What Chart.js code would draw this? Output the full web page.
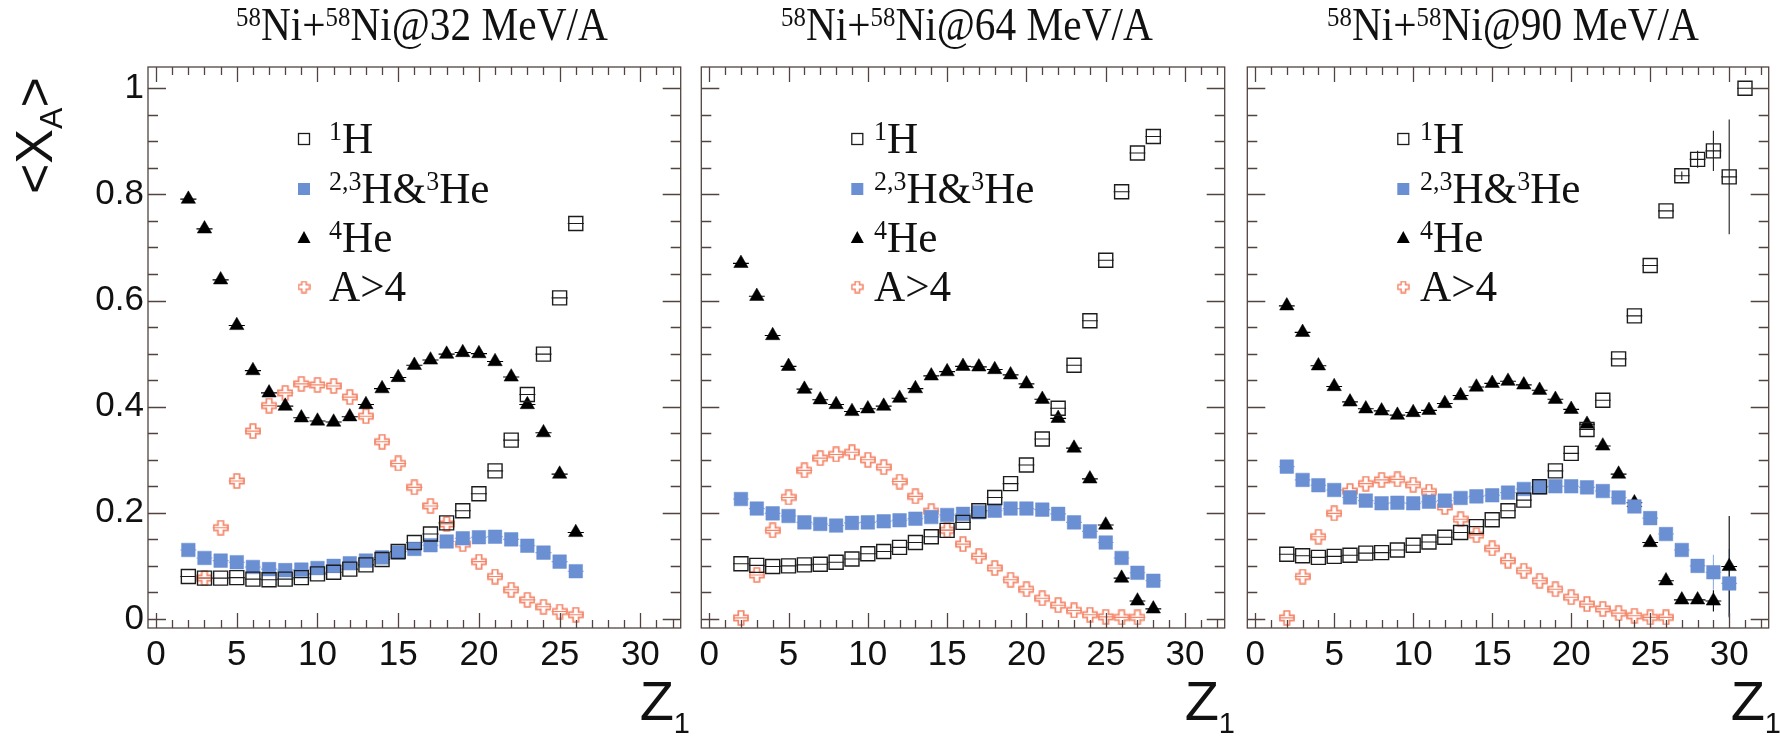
<!DOCTYPE html>
<html>
<head>
<meta charset="utf-8">
<script src="https://cdn.jsdelivr.net/npm/chart.js@4.4.0/dist/chart.umd.min.js"></script>
<style>
html,body{margin:0;padding:0;background:#ffffff;}
#wrap{position:relative;width:1780px;height:737px;overflow:hidden;background:#fff;}
canvas{position:absolute;top:0;}
.title{position:absolute;top:1px;font-family:"Liberation Serif","Times New Roman",serif;font-size:47px;line-height:47px;white-space:nowrap;color:#111;transform:translateX(-50%) scaleX(0.88);}
.title sup,.leg sup{font-size:0.6em;vertical-align:0.5em;line-height:0;}
.leg{position:absolute;font-family:"Liberation Serif","Times New Roman",serif;font-size:45px;line-height:45px;white-space:nowrap;color:#111;transform:scaleX(0.96);transform-origin:0 50%;}
.ztitle{position:absolute;top:673px;font-family:"Liberation Sans",Arial,sans-serif;font-size:56px;line-height:56px;color:#111;transform:translateX(-100%);white-space:nowrap;}
.ztitle sub{font-size:29px;vertical-align:-13px;line-height:0;}
.ytitle{position:absolute;left:8px;top:194px;font-family:"Liberation Sans",Arial,sans-serif;font-size:52px;line-height:52px;color:#111;transform:rotate(-90deg);transform-origin:0 0;white-space:nowrap;}
.ytitle sub{font-size:32px;vertical-align:-10px;line-height:0;}
</style>
</head>
<body>
<div id="wrap">
  <canvas id="c0"></canvas>
  <canvas id="c1"></canvas>
  <canvas id="c2"></canvas>
</div>
<script>
// ---------------- DATA ----------------
const energies = ['32', '64', '90'];
const xTickValues = [0, 5, 10, 15, 20, 25, 30];
const xTickLabels = ['0', '5', '10', '15', '20', '25', '30'];
const yTickValues = [0, 0.2, 0.4, 0.6, 0.8, 1];
const yTickLabels = ['0', '0.2', '0.4', '0.6', '0.8', '1'];
const legendLabels = ['<sup>1</sup>H', '<sup>2,3</sup>H&amp;<sup>3</sup>He', '<sup>4</sup>He', 'A&gt;4'];

// 58Ni+58Ni @ 32 MeV/A
const z32 = [2,3,4,5,6,7,8,9,10,11,12,13,14,15,16,17,18,19,20,21,22,23,24,25,26];
const h1_32 = [0.080,0.077,0.077,0.078,0.075,0.074,0.075,0.078,0.085,0.088,0.094,0.102,0.112,0.127,0.144,0.160,0.181,0.204,0.236,0.279,0.337,0.423,0.499,0.605,0.745];
const h23_32 = [0.130,0.115,0.110,0.107,0.098,0.094,0.092,0.093,0.096,0.100,0.105,0.110,0.116,0.125,0.132,0.139,0.146,0.152,0.154,0.155,0.150,0.138,0.125,0.108,0.090];
const he4_32 = [0.791,0.735,0.639,0.553,0.468,0.426,0.401,0.379,0.373,0.371,0.381,0.404,0.434,0.455,0.478,0.488,0.499,0.502,0.500,0.485,0.456,0.404,0.351,0.273,0.163];
const zA4_32 = [3,4,5,6,7,8,9,10,11,12,13,14,15,16,17,18,19,20,21,22,23,24,25,26];
const a4_32 = [0.077,0.172,0.260,0.354,0.402,0.426,0.443,0.441,0.439,0.418,0.382,0.334,0.293,0.248,0.213,0.179,0.141,0.108,0.080,0.055,0.036,0.023,0.014,0.008];

// 58Ni+58Ni @ 64 MeV/A
const z64 = [2,3,4,5,6,7,8,9,10,11,12,13,14,15,16,17,18,19,20,21,22,23,24,25,26,27,28];
const h1_64 = [0.104,0.101,0.099,0.100,0.102,0.103,0.107,0.113,0.123,0.127,0.135,0.144,0.155,0.167,0.182,0.204,0.229,0.255,0.290,0.339,0.397,0.478,0.562,0.676,0.805,0.878,0.909];
const h23_64 = [0.226,0.208,0.199,0.194,0.182,0.179,0.176,0.181,0.182,0.184,0.186,0.189,0.192,0.196,0.198,0.201,0.204,0.208,0.208,0.206,0.198,0.182,0.165,0.144,0.115,0.087,0.072];
const he4_64 = [0.670,0.608,0.534,0.476,0.433,0.413,0.404,0.391,0.396,0.401,0.416,0.434,0.458,0.466,0.476,0.475,0.470,0.460,0.443,0.414,0.378,0.322,0.264,0.177,0.077,0.034,0.019];
const zA4_64 = [2,3,4,5,6,7,8,9,10,11,12,13,14,15,16,17,18,19,20,21,22,23,24,25,26,27];
const a4_64 = [0.002,0.083,0.167,0.229,0.280,0.303,0.310,0.314,0.300,0.286,0.259,0.231,0.203,0.167,0.141,0.118,0.096,0.074,0.056,0.039,0.026,0.016,0.008,0.004,0.003,0.003];

// 58Ni+58Ni @ 90 MeV/A
const zH1_90 = [2,3,4,5,6,7,8,9,10,11,12,13,14,15,16,17,18,19,20,21,22,23,24,25,26,27,28,29,30,31];
const h1_90 = [0.122,0.119,0.116,0.118,0.120,0.124,0.125,0.130,0.139,0.145,0.154,0.163,0.174,0.187,0.204,0.224,0.249,0.279,0.312,0.357,0.412,0.490,0.571,0.666,0.769,0.835,0.866,0.882,0.833,1.000];
const h1Err_90 = [0,0,0,0,0,0,0,0,0,0,0,0,0,0,0,0,0,0,0,0,0,0,0,0,0,0.008,0.016,0.038,0.108,0];
const z90 = [2,3,4,5,6,7,8,9,10,11,12,13,14,15,16,17,18,19,20,21,22,23,24,25,26,27,28,29,30];
const h23_90 = [0.287,0.262,0.252,0.243,0.229,0.223,0.218,0.219,0.218,0.221,0.223,0.228,0.231,0.233,0.238,0.245,0.248,0.250,0.250,0.248,0.241,0.229,0.212,0.190,0.160,0.130,0.100,0.088,0.067];
const h23Err_90 = [0,0,0,0,0,0,0,0,0,0,0,0,0,0,0,0,0,0,0,0,0,0,0,0,0,0,0.012,0.033,0.065];
const he4_90 = [0.590,0.540,0.477,0.438,0.409,0.396,0.392,0.384,0.389,0.393,0.406,0.421,0.437,0.444,0.448,0.441,0.431,0.414,0.395,0.367,0.326,0.273,0.219,0.144,0.072,0.036,0.036,0.034,0.099];
const he4Err_90 = [0,0,0,0,0,0,0,0,0,0,0,0,0,0,0,0,0,0,0,0,0,0,0,0,0,0,0,0.02,0.095];
const zA4_90 = [2,3,4,5,6,7,8,9,10,11,12,13,14,15,16,17,18,19,20,21,22,23,24,25,26];
const a4_90 = [0.002,0.080,0.155,0.199,0.241,0.255,0.262,0.263,0.253,0.240,0.211,0.188,0.158,0.133,0.110,0.091,0.072,0.056,0.041,0.028,0.019,0.011,0.006,0.003,0.003];

// ---------------- STYLE / LAYOUT ----------------
const COL_H1 = '#1c1c1c';
const COL_H23 = '#6b8fd3';
const COL_H23_ERR = '#8eaee6';
const COL_HE4 = '#000000';
const COL_A4 = '#f5866a';
const FRAME = '#524340';

const layout = [
  {canvasLeft: 0,    width: 692, areaLeft: 148,  areaRight: 687},
  {canvasLeft: 690,  width: 546, areaLeft: 693,  areaRight: 1232},
  {canvasLeft: 1236, width: 544, areaLeft: 1239, areaRight: 1778}
];
const AREA_TOP = 67, AREA_BOTTOM = 628, H = 737;
const legendRowY = [139, 189, 238, 287];

function makeCross(size, color, lw) {
  const c = document.createElement('canvas');
  c.width = size; c.height = size;
  const g = c.getContext('2d');
  const m = size / 2, a = size * 0.17, L = size / 2 - 1;
  g.beginPath();
  g.moveTo(m - a, m - L); g.lineTo(m + a, m - L); g.lineTo(m + a, m - a);
  g.lineTo(m + L, m - a); g.lineTo(m + L, m + a); g.lineTo(m + a, m + a);
  g.lineTo(m + a, m + L); g.lineTo(m - a, m + L); g.lineTo(m - a, m + a);
  g.lineTo(m - L, m + a); g.lineTo(m - L, m - a); g.lineTo(m - a, m - a);
  g.closePath();
  g.strokeStyle = color; g.lineWidth = lw; g.stroke();
  return c;
}
const crossImg = makeCross(16, COL_A4, 1.7);
const crossImgLeg = makeCross(13, COL_A4, 1.5);

function pts(xs, ys) { return xs.map((x, i) => ({x: x, y: ys[i]})); }

const panels = [
  {zH1: z32, h1: h1_32, h1Err: null, z: z32, h23: h23_32, h23Err: null, he4: he4_32, he4Err: null, zA4: zA4_32, a4: a4_32},
  {zH1: z64, h1: h1_64, h1Err: null, z: z64, h23: h23_64, h23Err: null, he4: he4_64, he4Err: null, zA4: zA4_64, a4: a4_64},
  {zH1: zH1_90, h1: h1_90, h1Err: h1Err_90, z: z90, h23: h23_90, h23Err: h23Err_90, he4: he4_90, he4Err: he4Err_90, zA4: zA4_90, a4: a4_90}
];

const framePlugin = {
  id: 'rootframe',
  beforeDatasetsDraw(chart) {
    const ctx = chart.ctx, xs = chart.scales.x, ys = chart.scales.y, a = chart.chartArea;
    ctx.save();
    ctx.beginPath(); ctx.rect(a.left, a.top, a.right - a.left, a.bottom - a.top); ctx.clip();
    chart.data.datasets.forEach(ds => {
      ctx.strokeStyle = ds.errColor; ctx.lineWidth = 1.1;
      ctx.beginPath();
      ds.data.forEach((p, i) => {
        const y = ys.getPixelForValue(p.y);
        ctx.moveTo(xs.getPixelForValue(p.x - 0.5), y);
        ctx.lineTo(xs.getPixelForValue(p.x + 0.5), y);
        if (ds.yErr && ds.yErr[i]) {
          const x = xs.getPixelForValue(p.x);
          ctx.moveTo(x, ys.getPixelForValue(p.y - ds.yErr[i]));
          ctx.lineTo(x, ys.getPixelForValue(p.y + ds.yErr[i]));
        }
      });
      ctx.stroke();
    });
    ctx.restore();
  },
  afterDraw(chart) {
    const ctx = chart.ctx, xs = chart.scales.x, ys = chart.scales.y, a = chart.chartArea;
    ctx.save();
    ctx.strokeStyle = FRAME; ctx.lineWidth = 1.3;
    ctx.strokeRect(a.left, a.top, a.right - a.left, a.bottom - a.top);
    ctx.beginPath();
    for (let v = 0; v <= 32; v++) {
      const x = Math.round(xs.getPixelForValue(v)) + 0.5;
      const len = (v % 5 === 0) ? 15 : 8;
      ctx.moveTo(x, a.bottom); ctx.lineTo(x, a.bottom - len);
      ctx.moveTo(x, a.top); ctx.lineTo(x, a.top + len);
    }
    for (let k = 0; k <= 20; k++) {
      const y = Math.round(ys.getPixelForValue(k * 0.05)) + 0.5;
      const len = (k % 4 === 0) ? 18 : 10;
      ctx.moveTo(a.left, y); ctx.lineTo(a.left + len, y);
      ctx.moveTo(a.right, y); ctx.lineTo(a.right - len, y);
    }
    ctx.stroke();
    // legend markers
    const lx = a.left + 156;
    ctx.strokeStyle = COL_H1; ctx.lineWidth = 1.3;
    ctx.strokeRect(lx - 5.5, legendRowY[0] - 5.5, 11, 11);
    ctx.fillStyle = COL_H23;
    ctx.fillRect(lx - 6, legendRowY[1] - 6, 12, 12);
    ctx.fillStyle = COL_HE4;
    ctx.beginPath();
    ctx.moveTo(lx, legendRowY[2] - 7); ctx.lineTo(lx + 6.5, legendRowY[2] + 5); ctx.lineTo(lx - 6.5, legendRowY[2] + 5);
    ctx.closePath(); ctx.fill();
    ctx.drawImage(crossImgLeg, lx - crossImgLeg.width / 2, legendRowY[3] - crossImgLeg.height / 2);
    ctx.restore();
  }
};

const wrap = document.getElementById('wrap');

panels.forEach((p, pi) => {
  const L = layout[pi];
  const cv = document.getElementById('c' + pi);
  cv.width = L.width; cv.height = H;
  cv.style.left = L.canvasLeft + 'px';
  cv.style.width = L.width + 'px'; cv.style.height = H + 'px';
  const yW = L.areaLeft - L.canvasLeft;
  const padR = L.canvasLeft + L.width - L.areaRight;

  new Chart(cv.getContext('2d'), {
    type: 'scatter',
    data: {
      datasets: [
        {label: '1H', data: pts(p.zH1, p.h1), yErr: p.h1Err, errColor: COL_H1,
         pointStyle: 'rect', pointRadius: 9.9, pointBorderWidth: 1.4,
         pointBorderColor: COL_H1, pointBackgroundColor: 'rgba(0,0,0,0)'},
        {label: '2,3H&3He', data: pts(p.z, p.h23), yErr: p.h23Err, errColor: COL_H23_ERR,
         pointStyle: 'rect', pointRadius: 9.6, pointBorderWidth: 0.5,
         pointBorderColor: COL_H23, pointBackgroundColor: COL_H23},
        {label: '4He', data: pts(p.z, p.he4), yErr: p.he4Err, errColor: COL_HE4,
         pointStyle: 'triangle', pointRadius: 8.3, pointBorderWidth: 0.5,
         pointBorderColor: COL_HE4, pointBackgroundColor: COL_HE4},
        {label: 'A>4', data: pts(p.zA4, p.a4), yErr: null, errColor: COL_A4,
         pointStyle: crossImg, pointRadius: 8, pointBorderWidth: 0,
         pointBorderColor: COL_A4, pointBackgroundColor: COL_A4}
      ]
    },
    options: {
      responsive: false, animation: false, events: [],
      layout: {padding: {top: AREA_TOP, right: padR, left: 0, bottom: 0}},
      plugins: {legend: {display: false}, tooltip: {enabled: false}, title: {display: false}},
      scales: {
        x: {
          type: 'linear', min: -0.5, max: 32.5,
          grid: {display: false, drawTicks: false}, border: {display: false},
          afterBuildTicks: s => { s.ticks = xTickValues.map(v => ({value: v})); },
          afterFit: s => { s.height = H - AREA_BOTTOM; },
          ticks: {font: {family: 'Liberation Sans', size: 35}, color: '#111', padding: 6,
                  maxRotation: 0, minRotation: 0, autoSkip: false,
                  callback: (v, i) => xTickLabels[i]}
        },
        y: {
          type: 'linear', min: -0.017, max: 1.04,
          grid: {display: false, drawTicks: false}, border: {display: false},
          afterBuildTicks: s => { s.ticks = yTickValues.map(v => ({value: v})); },
          afterFit: s => { s.width = yW; },
          ticks: {display: pi === 0, font: {family: 'Liberation Sans', size: 35}, color: '#111', padding: 4,
                  callback: (v, i) => yTickLabels[i]}
        }
      }
    },
    plugins: [framePlugin]
  });

  const t = document.createElement('div');
  t.className = 'title';
  t.style.left = ((L.areaLeft + L.areaRight) / 2 + 4.5) + 'px';
  t.innerHTML = '<sup>58</sup>Ni+<sup>58</sup>Ni@' + energies[pi] + ' MeV/A';
  wrap.appendChild(t);

  legendLabels.forEach((lab, k) => {
    const d = document.createElement('div');
    d.className = 'leg';
    d.style.left = (L.areaLeft + 181) + 'px';
    d.style.top = (legendRowY[k] - 23) + 'px';
    d.innerHTML = lab;
    wrap.appendChild(d);
  });

  const z = document.createElement('div');
  z.className = 'ztitle';
  z.style.left = (L.areaRight + 3) + 'px';
  z.innerHTML = 'Z<sub>1</sub>';
  wrap.appendChild(z);
});

const yt = document.createElement('div');
yt.className = 'ytitle';
yt.innerHTML = '&lt;X<sub>A</sub>&gt;';
wrap.appendChild(yt);
</script>
</body>
</html>
